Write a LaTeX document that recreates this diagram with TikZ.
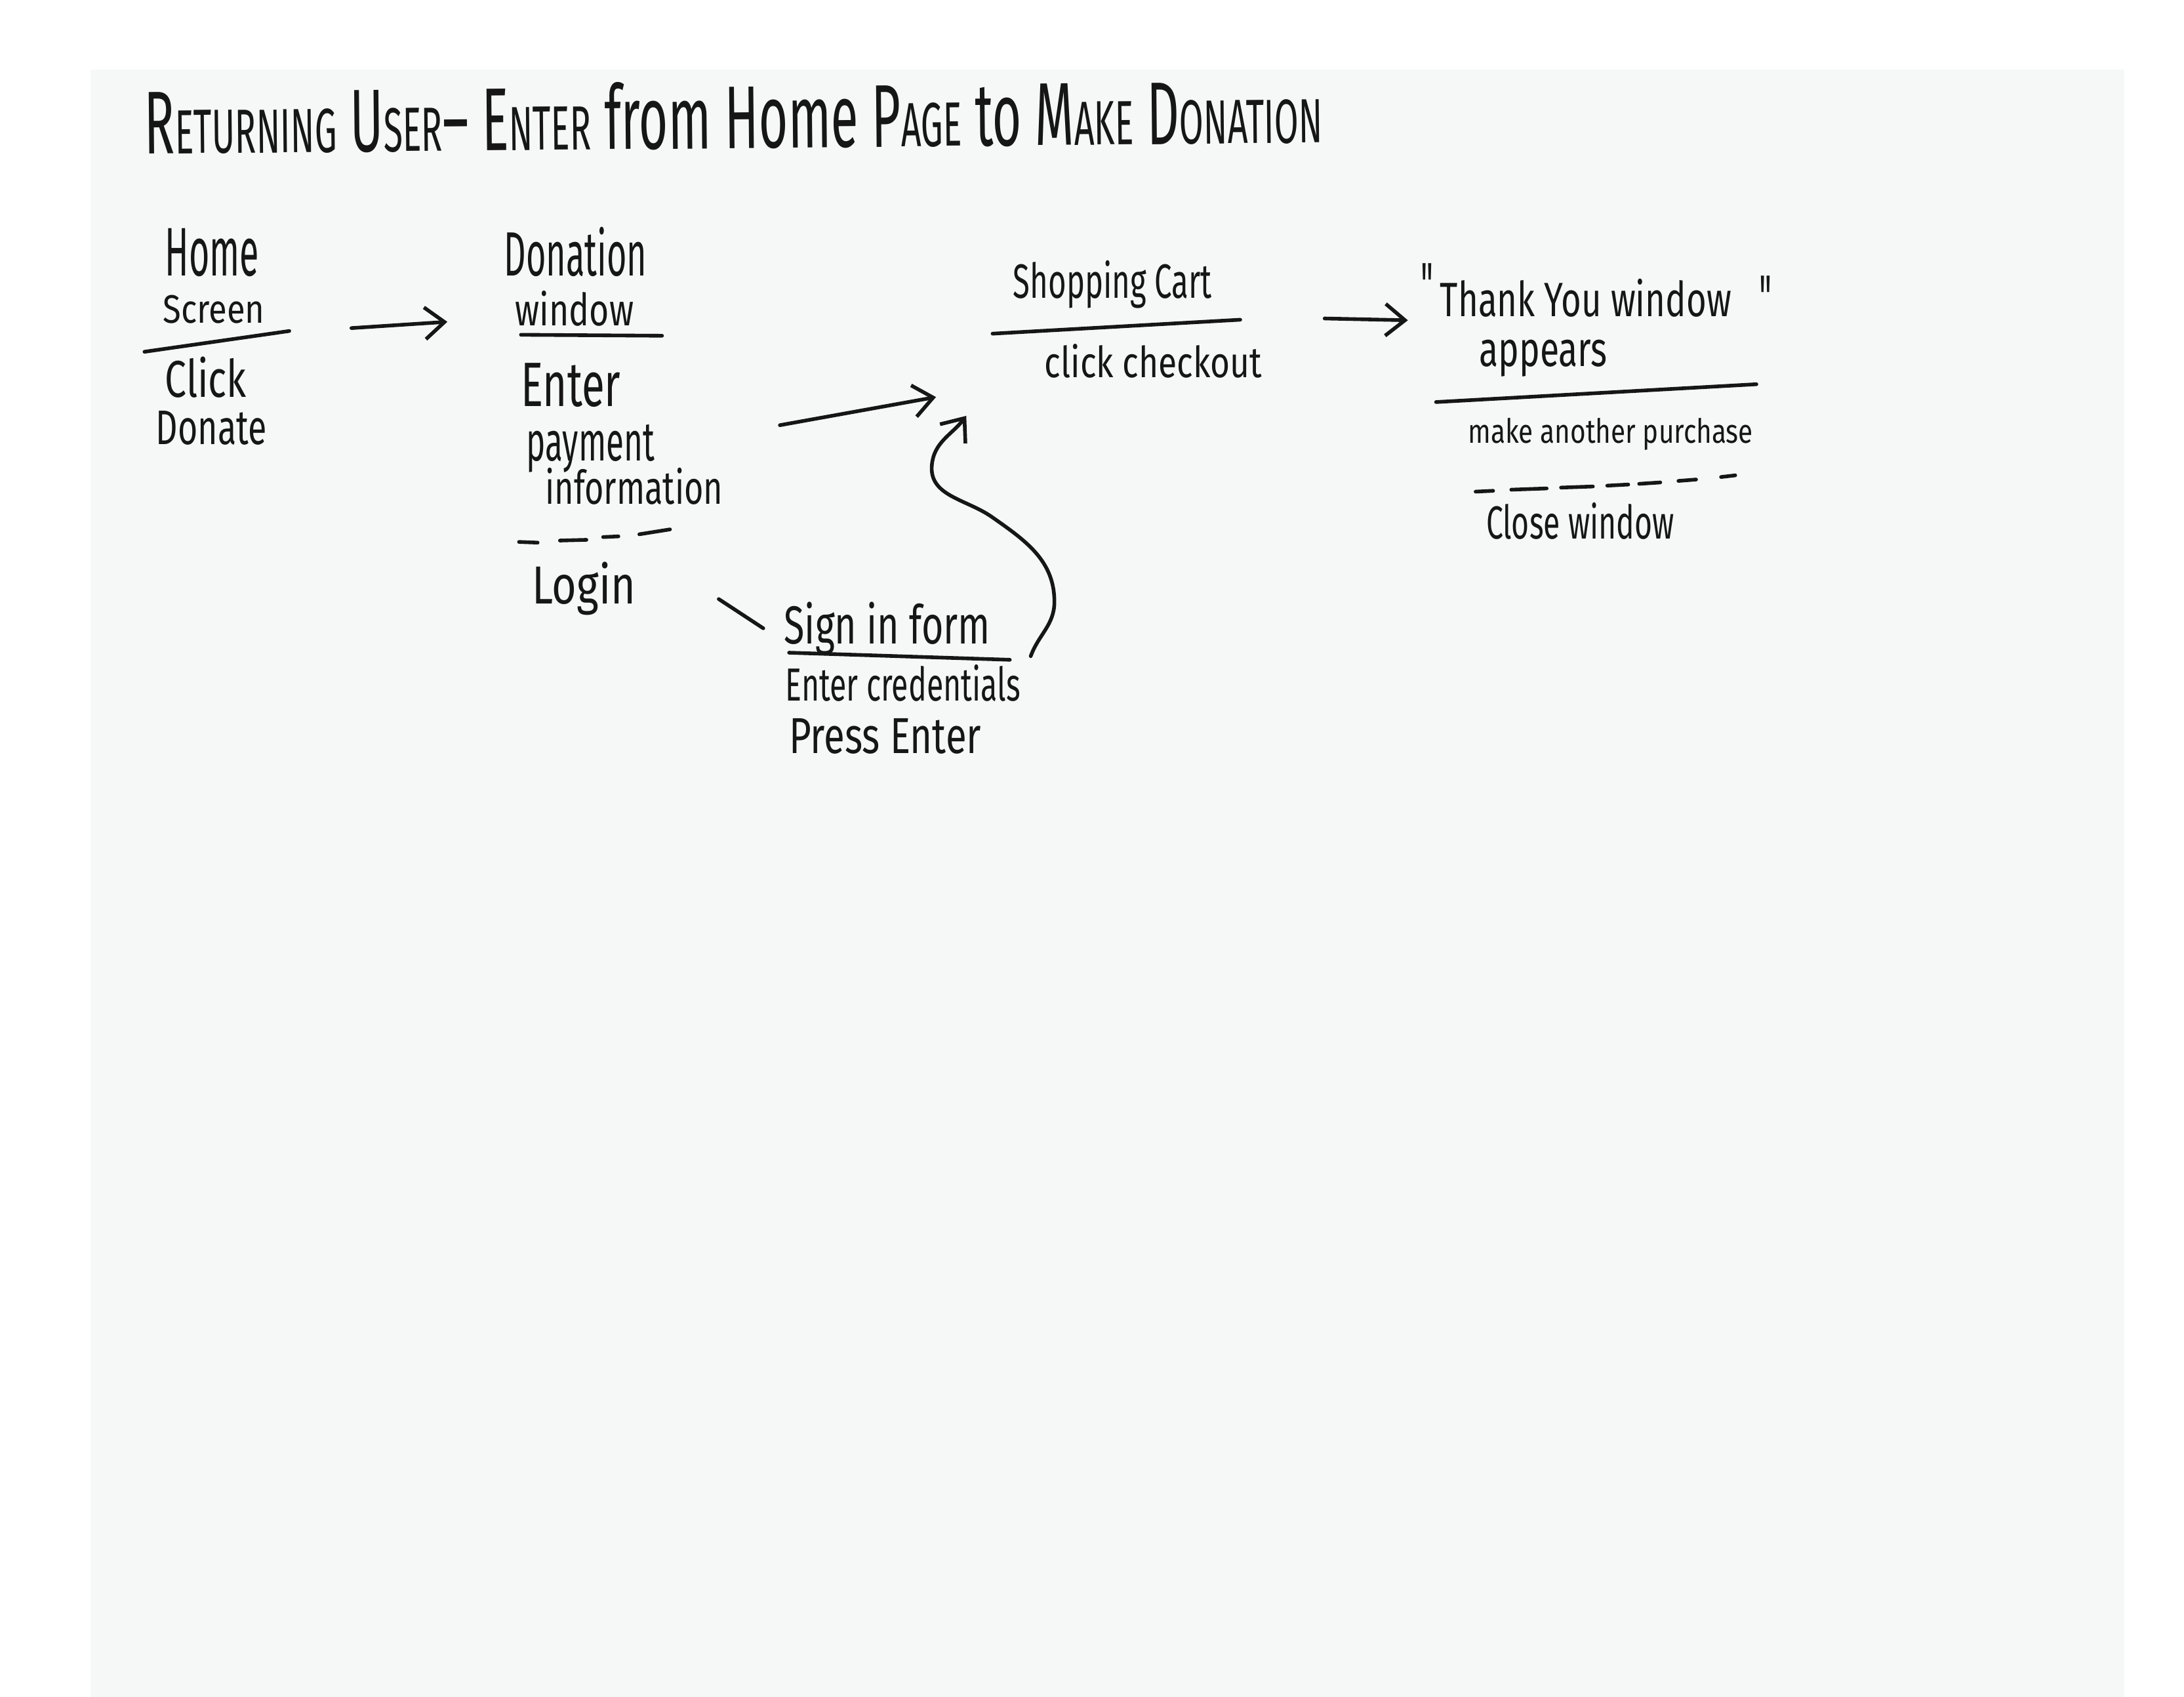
\documentclass[tikz,border=0pt]{standalone}
\usepackage{fontspec}
\usepackage{graphicx}
\newfontfamily\handfont{Fira Sans}
\usetikzlibrary{arrows.meta}
\newlength\un \setlength\un{0.02cm}
\newcommand\hw[3]{\resizebox{#1\un}{#2\un}{\handfont #3}}
\newcommand\sml[1]{{\fontsize{7}{8}\selectfont #1}}
\definecolor{paper}{RGB}{246,248,248}
\definecolor{inkc}{RGB}{22,22,22}
\begin{document}
\begin{tikzpicture}[x=0.02cm,y=-0.02cm,
  ink/.style={line width=1.5pt, line cap=round, line join=round, draw=inkc},
  txt/.style={inner sep=0pt, outer sep=0pt, anchor=base west, text=inkc},
  arr/.style={ink, -{Straight Barb[length=8pt,width=13pt]}},
  quote/.style={txt, anchor=north west}]
\useasboundingbox (0,0) rectangle (1568,1218);
\fill[white] (0,0) rectangle (1568,1218);
\fill[paper] (65,50) rectangle (1525,1218);

% title
\node[txt, rotate=0.55] (title) at (104,110.5)
  {\hw{846}{48}{R\sml{ETURNING} U\sml{SER}– E\sml{NTER} from Home P\sml{AGE} to M\sml{AKE} D\sml{ONATION}}};

% Home screen
\node[txt] (home1) at (118.5,198) {\hw{67.5}{34}{Home}};
\node[txt] (home2) at (117,232) {\hw{73}{20}{Screen}};
\node[txt] (home3) at (118.5,285) {\hw{58.5}{29}{Click}};
\node[txt] (home4) at (112,319) {\hw{79.5}{24}{Donate}};
\draw[ink] (103.7,252.5) -- (207.7,237.6);

% Donation window
\node[txt] (don1) at (362,198) {\hw{102.5}{35}{Donation}};
\node[txt] (don2) at (370,234) {\hw{85}{25}{window}};
\node[txt] (don3) at (374,291.5) {\hw{71.6}{31}{Enter}};
\node[txt] (don4) at (378,331) {\hw{92}{26}{payment}};
\node[txt] (don5) at (391.5,362) {\hw{127.5}{26}{information}};
\node[txt] (login) at (382,433.6) {\hw{74.4}{30}{Login}};
\draw[ink] (374,240.3) -- (475.3,241);
\draw[ink] (372.6,389) -- (386,389.5) (402,388) -- (421,387.5)
  (433,385.5) -- (444,385) (459,383.5) -- (481,380);

% Sign in form
\node[txt] (sign1) at (563,462) {\hw{148}{30}{Sign in form}};
\node[txt] (sign2) at (564,503) {\hw{168.5}{26}{Enter credentials}};
\node[txt] (sign3) at (566.5,541) {\hw{138}{25}{Press Enter}};
\draw[ink] (566.5,468.5) -- (725,473.6);

% Shopping cart
\node[txt] (cart1) at (727.4,214) {\hw{142.6}{27}{Shopping Cart}};
\node[txt] (cart2) at (750,271) {\hw{156}{24}{click checkout}};
\draw[ink] (712.6,239.5) -- (890.4,229.5);

% Thank you window
\node[quote] (q1) at (1020,189) {\hw{9}{31}{"}};
\node[txt] (thx1) at (1034,227.3) {\hw{209}{27}{Thank You window}};
\node[quote] (q2) at (1263,198) {\hw{9}{31}{"}};
\node[txt] (thx2) at (1062,263) {\hw{92}{19}{appears}};
\node[txt] (thx3) at (1054,318) {\hw{204.6}{18}{make another purchase}};
\node[txt] (thx4) at (1067,387) {\hw{135}{26}{Close window}};
\draw[ink] (1031,288.6) -- (1261,275.8);
\draw[ink] (1059.4,352.9) -- (1072,352.3) (1085,351.5) -- (1110.4,350.6)
  (1120.7,350) -- (1143.6,349.2) (1153.9,348.6) -- (1169,347.8)
  (1176.8,347.3) -- (1192,346.3) (1205,345.2) -- (1217.7,344.2)
  (1235.6,342.4) -- (1245.8,341.2);

% connector end points
\coordinate (a1s) at (252.3,235.5);
\coordinate (a1e) at (321.2,231);
\coordinate (a2s) at (559.9,305.2);
\coordinate (a2e) at (672,285);
\coordinate (a3s) at (740,471);
\coordinate (a3e) at (693.7,298.5);
\coordinate (a4s) at (951,228.6);
\coordinate (a4e) at (1010.8,229.9);
\coordinate (ls) at (516,430);
\coordinate (le) at (548,451);

% connectors
\draw[arr] (a1s) -- (a1e);
\draw[arr] (a2s) -- (a2e);
\draw[arr] (a3s) to[out=70,in=-90] (757,432) to[out=90,in=-35] (712,371)
  to[out=145,in=-95] (669,334) to[out=85,in=-127] (a3e);
\draw[arr] (a4s) -- (a4e);
\draw[ink] (ls) -- (le);
\end{tikzpicture}
\end{document}
